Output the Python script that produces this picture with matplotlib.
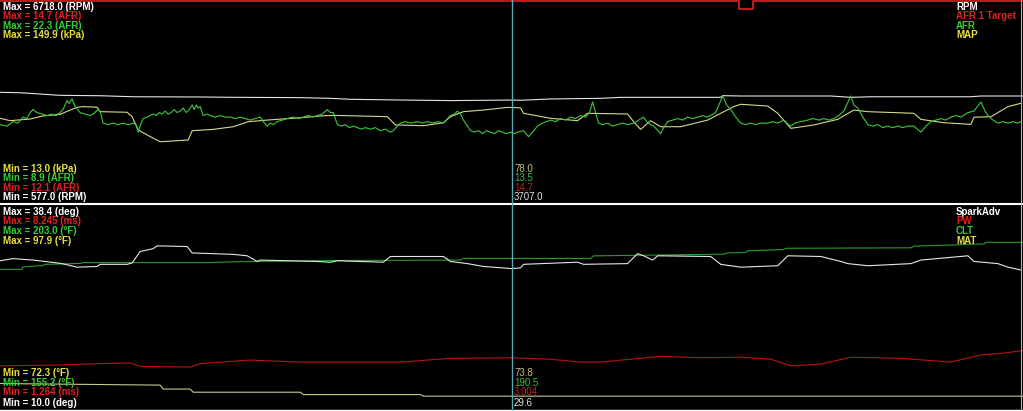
import matplotlib.pyplot as plt
from matplotlib.lines import Line2D

# ---- log data (time in s) ----
rpm_t = [0, 2, 6, 10, 13.3, 20, 23.3, 30, 33, 35, 40, 45, 51.1, 52, 55, 60, 62, 72, 72.2, 74, 83, 85, 87, 97, 98, 102.2]
rpm = [3942, 3930, 3850, 3838, 3807, 3800, 3790, 3780, 3759, 3730, 3708, 3690, 3707, 3700, 3740, 3759, 3789, 3789, 3840, 3830, 3830, 3789, 3807, 3807, 3830, 3830]

afr_target_t = [0, 73.8, 73.8, 75.2, 75.2, 102.2]
afr_target = [14.7, 14.7, 14.6, 14.6, 14.7, 14.7]

afr_t = [0.0, 0.7, 1.3, 1.8, 2.3, 2.7, 3.0, 3.3, 3.7, 4.2,
         4.7, 5.2, 5.6, 6.0, 6.3, 6.7, 6.9, 7.2, 7.5, 8.0,
         8.5, 9.0, 9.3, 9.8, 10.0, 10.3, 10.8, 11.3, 11.8, 12.3,
         12.8, 13.3, 13.6, 13.8, 14.1, 14.3, 14.7, 15.0, 15.3, 15.6,
         15.9, 16.2, 16.5, 16.8, 17.1, 17.4, 17.7, 18.0, 18.3, 18.6,
         18.9, 19.2, 19.4, 19.6, 19.8, 20.0, 20.3, 20.7, 21.0, 21.5,
         22.0, 22.5, 23.0, 23.5, 24.0, 24.5, 25.0, 25.5, 26.0, 26.3,
         26.7, 27.0, 27.3, 27.7, 28.2, 28.7, 29.3, 29.8, 30.3, 30.8,
         31.3, 31.7, 32.2, 32.7, 33.0, 33.3, 33.7, 34.1, 34.5, 34.9,
         35.3, 35.7, 36.1, 36.5, 37.0, 37.5, 38.0, 38.5, 39.0, 39.3,
         39.7, 40.0, 40.5, 41.0, 41.7, 42.2, 42.7, 43.2, 43.8, 44.3,
         45.0, 45.4, 45.7, 46.0, 46.3, 46.7, 47.0, 47.4, 47.8, 48.2,
         48.6, 49.0, 49.4, 49.8, 50.2, 50.6, 51.0, 51.4, 51.7, 52.3,
         52.8, 53.2, 53.7, 54.2, 54.6, 55.0, 55.5, 56.0, 56.5, 57.0,
         57.5, 58.0, 58.5, 58.9, 59.2, 59.5, 59.8, 60.2, 60.7, 61.2,
         61.7, 62.2, 62.7, 63.3, 63.8, 64.3, 64.6, 65.0, 65.3, 65.6,
         66.0, 66.3, 66.7, 67.2, 67.7, 68.2, 68.7, 69.2, 69.7, 70.2,
         70.6, 71.0, 71.5, 72.2, 72.6, 73.0, 73.5, 74.0, 74.5, 75.0,
         75.5, 76.0, 76.7, 77.2, 77.7, 78.3, 78.6, 79.0, 79.4, 80.0,
         80.7, 81.2, 81.8, 82.3, 82.8, 83.3, 83.8, 84.3, 85.0, 85.3,
         85.7, 86.2, 86.7, 87.2, 87.7, 88.2, 88.7, 89.2, 89.7, 90.2,
         90.7, 91.3, 92.0, 92.5, 93.0, 93.5, 94.0, 94.5, 95.0, 95.5,
         96.0, 96.7, 97.3, 98.0, 98.4, 98.7, 99.2, 99.7, 100.2, 100.7,
         101.2, 101.7, 102.0]
afr = [14.1, 14.0, 14.3, 14.2, 14.6, 14.5, 14.9, 15.1, 14.9, 14.8,
       14.7, 14.8, 14.7, 14.9, 15.1, 15.7, 15.5, 15.8, 15.3, 14.9,
       14.8, 14.7, 14.8, 15.1, 15.0, 14.2, 14.1, 14.2, 14.1, 14.2,
       14.1, 14.2, 14.1, 13.6, 14.2, 14.5, 14.6, 14.7, 14.8, 14.7,
       14.9, 14.8, 15.0, 14.8, 14.9, 15.1, 14.9, 15.0, 15.2, 14.9,
       15.1, 15.4, 15.1, 15.4, 15.2, 15.3, 14.7, 14.8, 14.7, 14.6,
       14.7, 14.6, 14.6, 14.5, 14.6, 14.5, 14.4, 14.5, 14.6, 14.3,
       14.0, 14.2, 14.1, 14.3, 14.4, 14.5, 14.6, 14.5, 14.6, 14.7,
       14.6, 14.7, 14.8, 15.1, 14.9, 14.9, 14.1, 14.0, 14.1, 13.9,
       14.0, 13.9, 13.8, 13.9, 13.8, 13.9, 13.7, 13.8, 13.6, 13.7,
       14.0, 14.2, 14.3, 14.2, 14.3, 14.2, 14.3, 14.2, 14.3, 14.2,
       14.7, 14.8, 15.0, 14.8, 14.4, 14.0, 13.7, 13.6, 13.7, 13.5,
       13.7, 13.6, 13.5, 13.7, 13.6, 13.5, 13.6, 13.5, 13.6, 13.7,
       13.3, 13.6, 14.0, 14.2, 14.3, 14.4, 14.3, 14.5, 14.4, 14.6,
       14.5, 14.7, 14.6, 14.9, 15.6, 14.9, 14.2, 14.1, 14.2, 14.0,
       14.1, 14.2, 14.1, 14.2, 14.4, 14.6, 14.3, 14.1, 14.0, 13.8,
       13.5, 13.9, 14.3, 14.4, 14.5, 14.4, 14.6, 14.5, 14.6, 14.7,
       14.6, 14.7, 14.9, 16.0, 15.4, 15.1, 14.6, 14.2, 14.1, 14.2,
       14.1, 14.2, 14.2, 14.3, 14.2, 14.4, 14.2, 14.0, 14.2, 14.3,
       14.4, 14.5, 14.4, 14.5, 14.4, 14.5, 14.7, 15.0, 16.0, 15.4,
       15.2, 14.6, 14.1, 14.0, 14.1, 13.9, 14.0, 13.9, 14.0, 13.9,
       14.0, 14.0, 13.6, 14.0, 14.3, 14.4, 14.5, 14.4, 14.6, 14.7,
       14.6, 14.9, 15.0, 15.6, 15.0, 14.7, 14.4, 14.2, 14.3, 14.2,
       14.3, 14.2, 14.3]

map_t = [0, 1, 3, 4.3, 6, 7.7, 8.3, 9.7, 10, 12.7,
         13.2, 13.8, 14.7, 16, 18.8, 19.2, 21.3, 23.3, 24.8, 26.7,
         30, 32, 33.3, 38.7, 39.5, 42.3, 44.3, 45, 46.3, 48.3,
         50.7, 52, 52.3, 55, 57.7, 58.7, 62.7, 63.3, 64, 65,
         66, 68, 70.7, 72, 73.3, 74, 76.7, 77.7, 79, 81.3,
         83.7, 85.3, 86.7, 91.3, 92, 94.3, 97, 97.3, 99, 100.7,
         102]
map_kpa = [70.4, 68.8, 69.9, 72.0, 73.1, 77.9, 78.3, 77.9, 74.9, 74.5,
           71.5, 62.5, 59.1, 54.5, 55.7, 62.0, 62.9, 64.7, 68.1, 69.2,
           70.8, 72.0, 72.4, 71.5, 65.9, 65.4, 67.4, 71.5, 74.9, 76.0,
           77.8, 77.5, 73.8, 70.4, 68.8, 73.8, 73.3, 68.1, 62.9, 68.8,
           64.7, 64.7, 69.2, 73.8, 78.3, 79.9, 78.7, 73.8, 63.6, 65.9,
           69.7, 76.0, 74.9, 73.8, 69.7, 67.4, 66.3, 71.1, 71.5, 78.3,
           80.6]

spark_t = [0, 1.3, 3.3, 5.7, 6.2, 7.7, 9.7, 10, 12.7, 13.2,
           14, 15.3, 15.7, 18.7, 19.2, 23.3, 24.7, 25.7, 26, 31.7,
           33, 33.7, 38.3, 39, 44.3, 45, 46.7, 48.3, 51.1, 52,
           52.3, 57.7, 58.3, 62.7, 63.7, 64.3, 65.2, 65.7, 71, 72,
           74, 77.7, 78.7, 82, 84, 84.7, 86.7, 91, 92, 96.7,
           97.3, 99.7, 100.7, 102]
spark = [30.7, 31.0, 30.8, 30.4, 30.3, 29.8, 29.9, 30.2, 30.2, 30.4,
         32.0, 32.4, 32.8, 32.7, 31.8, 31.6, 31.4, 30.6, 30.8, 30.6,
         30.5, 30.7, 30.5, 31.3, 31.3, 30.6, 30.3, 29.9, 29.6, 29.7,
         30.2, 30.5, 30.2, 30.3, 31.7, 31.4, 30.8, 31.4, 31.3, 30.2,
         29.8, 30.0, 31.4, 31.3, 30.6, 30.3, 30.0, 30.3, 30.8, 31.4,
         30.6, 30.3, 29.8, 29.4]

pw_t = [0, 6, 10, 13, 14, 19, 20, 25, 30, 40,
        45, 51.1, 55, 58, 60, 63, 66, 70, 74, 77,
        79, 82, 85, 90, 95, 98, 100, 102.2]
pw = [2.72, 2.75, 2.80, 2.82, 2.70, 2.68, 2.80, 2.92, 2.85, 2.85,
      2.98, 3.00, 2.95, 2.85, 2.85, 2.95, 3.05, 3.00, 3.02, 2.95,
      2.72, 2.78, 3.02, 2.98, 2.85, 3.10, 3.15, 3.25]

clt_t = [0, 2.2, 2.3, 4.3, 4.5, 8, 8.3, 20.7, 23.3, 33.3,
         46, 46.3, 59, 59.3, 72.3, 72.7, 74.5, 74.7, 78.3, 78.5,
         91, 91.3, 95.7, 96, 98.3, 98.5, 102.2]
clt = [188.0, 188.0, 188.6, 188.9, 189.2, 189.4, 189.6, 189.6, 189.8, 190.1,
       190.2, 190.6, 190.6, 191.2, 191.6, 191.9, 192.0, 192.4, 192.7, 193.0,
       193.1, 193.5, 193.8, 193.9, 194.0, 194.4, 194.4]

mat_t = [0, 16, 16.3, 19, 19.3, 30, 30.3, 42, 42.3, 102.2]
mat = [75.4, 75.2, 74.7, 74.7, 74.3, 74.3, 74.0, 74.0, 73.8, 73.8]

cursor_t = 51.1
T0, T1 = 0, 102.2

W, H = 1023, 411
fig = plt.figure(figsize=(W / 100, H / 100), dpi=100, facecolor='black')


def rect(y_top, y_bot):
    return [0, 1 - y_bot / H, 1, (y_bot - y_top) / H]


top = rect(1, 203)
bot = rect(206, 408)


def channel(r, t, v, lo, hi, color, lw=0.8):
    ax = fig.add_axes(r)
    ax.set_xlim(T0, T1)
    ax.set_ylim(lo, hi)
    ax.axis('off')
    ax.patch.set_alpha(0)
    ax.plot(t, v, color=color, lw=lw, clip_on=False)
    return ax


# top panel
channel(top, rpm_t, rpm, 577.0, 6718.0, '#e6e6e6')
channel(top, afr_target_t, afr_target, 12.1, 14.7, '#e02020', lw=1.2)
channel(top, map_t, map_kpa, 13.0, 149.9, '#d8d88a')
channel(top, afr_t, afr, 8.9, 22.3, '#3cc83c')
# bottom panel
channel(bot, mat_t, mat, 72.3, 97.9, '#c8c890')
channel(bot, pw_t, pw, 1.264, 8.245, '#b81414')
channel(bot, clt_t, clt, 155.2, 203.0, '#2a9a2a')
channel(bot, spark_t, spark, 10.0, 38.4, '#e6e6e6')

# frame lines and cursor
fig.add_artist(Line2D([0, 1], [1 - 204.5 / H] * 2, color='white', lw=1.5))
fig.add_artist(Line2D([0, 1], [1 - 409.5 / H] * 2, color='white', lw=1.0))
fig.add_artist(Line2D([1021 / W] * 2, [0, 1], color='#b0b0b0', lw=0.8))
cx = (cursor_t - T0) / (T1 - T0)
fig.add_artist(Line2D([cx, cx], [0, 1], color='#5aa9b5', lw=1.0))

WHITE, RED, GREEN, YELLOW = '#ffffff', '#e02020', '#30d030', '#e8e040'


def label(x, y, s, color, bold=True):
    fig.text(x / W, 1 - y / H, s, color=color, fontsize=7, family='Liberation Sans',
             fontweight='bold' if bold else 'normal', va='center', ha='left')


rows_top = [6.7, 16.3, 25.7, 35.0]
rows_topmin = [169.0, 178.3, 187.7, 197.3]
rows_bot = [212.0, 221.5, 231.0, 240.5]
rows_botmin = [373.3, 382.7, 392.3, 402.5]

for y, s, c in zip(rows_top, ['Max = 6718.0 (RPM)', 'Max = 14.7 (AFR)', 'Max = 22.3 (AFR)', 'Max = 149.9 (kPa)'],
                   [WHITE, RED, GREEN, YELLOW]):
    label(3, y, s, c)
for y, s, c in zip(rows_top, ['RPM', 'AFR 1 Target', 'AFR', 'MAP'], [WHITE, RED, GREEN, YELLOW]):
    label(956, y, s, c)
for y, s, c in zip(rows_topmin, ['Min = 13.0 (kPa)', 'Min = 8.9 (AFR)', 'Min = 12.1 (AFR)', 'Min = 577.0 (RPM)'],
                   [YELLOW, GREEN, RED, WHITE]):
    label(3, y, s, c)
for y, s, c in zip(rows_topmin, ['78.0', '13.5', '14.7', '3707.0'], ['#c8c080', '#40b840', '#c82020', '#e0e0e0']):
    label(514, y, s, c, bold=False)

for y, s, c in zip(rows_bot, ['Max = 38.4 (deg)', 'Max = 8.245 (ms)', 'Max = 203.0 (°F)', 'Max = 97.9 (°F)'],
                   [WHITE, RED, GREEN, YELLOW]):
    label(3, y, s, c)
for y, s, c in zip(rows_bot, ['SparkAdv', 'PW', 'CLT', 'MAT'], [WHITE, RED, GREEN, YELLOW]):
    label(956, y, s, c)
for y, s, c in zip(rows_botmin, ['Min = 72.3 (°F)', 'Min = 155.2 (°F)', 'Min = 1.264 (ms)', 'Min = 10.0 (deg)'],
                   [YELLOW, GREEN, RED, WHITE]):
    label(3, y, s, c)
for y, s, c in zip(rows_botmin, ['73.8', '190.5', '3.004', '29.6'], ['#c8c080', '#40b840', '#c82020', '#e0e0e0']):
    label(514, y, s, c, bold=False)

fig.savefig('out.png', dpi=100, facecolor='black')
